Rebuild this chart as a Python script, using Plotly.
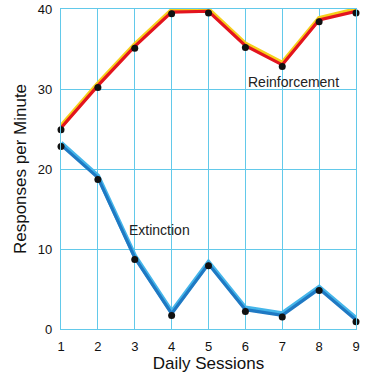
import plotly.graph_objects as go

sessions = [1, 2, 3, 4, 5, 6, 7, 8, 9]
reinforcement = [24.9, 30.2, 35.1, 39.4, 39.5, 35.2, 32.8, 38.4, 39.5]
extinction = [22.8, 18.7, 8.7, 1.7, 7.9, 2.2, 1.5, 4.8, 0.9]
y_ticks = [0, 10, 20, 30, 40]

FONT = "Liberation Sans, Arial, sans-serif"

fig = go.Figure()

# highlight (offset) strokes on the bottom-most (invisible) axis
fig.add_trace(go.Scatter(x=sessions, y=reinforcement, mode="lines", yaxis="y",
                         line=dict(color="#f6cf1c", width=4.5), cliponaxis=False,
                         hoverinfo="skip", showlegend=False))
fig.add_trace(go.Scatter(x=sessions, y=extinction, mode="lines", yaxis="y",
                         line=dict(color="#45b6ea", width=4.5), cliponaxis=False,
                         hoverinfo="skip", showlegend=False))
# main strokes
fig.add_trace(go.Scatter(x=sessions, y=reinforcement, mode="lines", yaxis="y2",
                         line=dict(color="#e3141e", width=3.2), cliponaxis=False,
                         name="Reinforcement", showlegend=False))
fig.add_trace(go.Scatter(x=sessions, y=extinction, mode="lines", yaxis="y2",
                         line=dict(color="#1f79c3", width=3.2), cliponaxis=False,
                         name="Extinction", showlegend=False))
# dots on the visible axis
fig.add_trace(go.Scatter(x=sessions, y=reinforcement, mode="markers", yaxis="y3",
                         marker=dict(color="#111111", size=7), cliponaxis=False,
                         showlegend=False))
fig.add_trace(go.Scatter(x=sessions, y=extinction, mode="markers", yaxis="y3",
                         marker=dict(color="#111111", size=7), cliponaxis=False,
                         showlegend=False))

fig.add_annotation(x=7.3, y=30.9, yref="y3", text="Reinforcement", showarrow=False,
                   font=dict(family=FONT, size=14, color="#222222"))
fig.add_annotation(x=3.66, y=12.4, yref="y3", text="Extinction", showarrow=False,
                   font=dict(family=FONT, size=14, color="#222222"))

grid = "#62c9ea"
fig.update_layout(
    width=383, height=377,
    margin=dict(l=61, r=27, t=9, b=47.5),
    paper_bgcolor="white", plot_bgcolor="white",
    font=dict(family=FONT, color="#111111"),
    xaxis=dict(range=[1, 9], tickvals=sessions, showgrid=True, gridcolor=grid,
               gridwidth=1.3, zeroline=False, showline=True, linecolor=grid,
               linewidth=1.3, mirror=True, ticks="", ticklabelstandoff=5,
               tickfont=dict(size=13), automargin=False,
               title=dict(text="Daily Sessions", font=dict(size=17), standoff=1)),
    yaxis=dict(range=[-0.45, 39.55], visible=False, showgrid=False, automargin=False),
    yaxis2=dict(range=[-0.22, 39.78], overlaying="y", visible=False, automargin=False),
    yaxis3=dict(range=[0, 40], overlaying="y", side="left", tickvals=y_ticks,
                showgrid=True, gridcolor=grid, gridwidth=1.3, zeroline=False,
                showline=True, linecolor=grid, linewidth=1.3, mirror=True,
                ticks="", ticklabelstandoff=5, tickfont=dict(size=13),
                automargin=False,
                title=dict(text="Responses per Minute", font=dict(size=17), standoff=6)),
)

fig.write_html(
    "out.html",
    config={"displayModeBar": False},
    post_script="document.body.style.margin='0';document.body.style.padding='0';",
)
